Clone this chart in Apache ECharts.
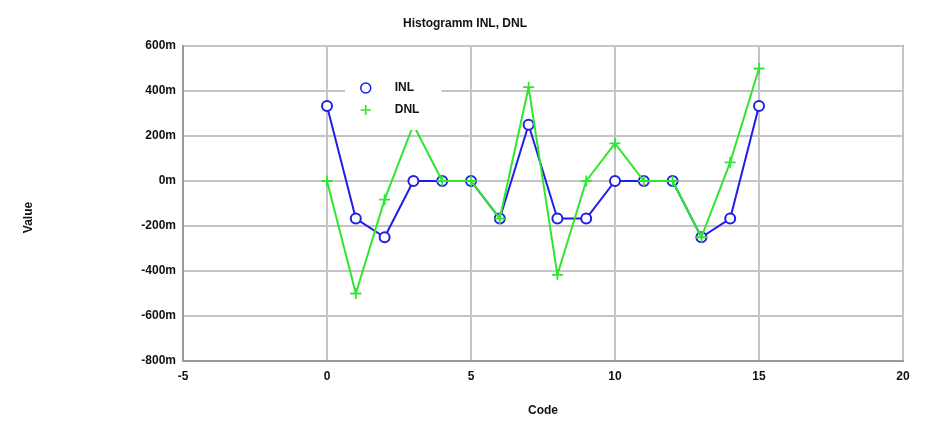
<!DOCTYPE html>
<html><head><meta charset="utf-8">
<script src="https://cdn.jsdelivr.net/npm/echarts@6/dist/echarts.min.js"></script>
<style>html,body{margin:0;padding:0;background:#fff}#c{width:930px;height:425px}</style>
</head><body><div id="c"></div>
<script>
const codes = [0,1,2,3,4,5,6,7,8,9,10,11,12,13,14,15];
// values in milli-units
const inl = [333,-167,-250,0,0,0,-167,250,-167,-167,0,0,0,-250,-167,333];
const dnl = [0,-500,-83,250,0,0,-167,417,-417,0,167,0,0,-250,83,500];
const xTicks = {min:-5, max:20, interval:5};
const yTicks = {min:-800, max:600, interval:200};

const plusPath = 'path://M4.2,0h1.6v4.2h4.2v1.6h-4.2v4.2h-1.6v-4.2h-4.2v-1.6h4.2z';
const blue = '#1e1ee8', green = '#2ee62e';
const font = 'Liberation Sans, Arial, sans-serif';

const chart = echarts.init(document.getElementById('c'), null, {renderer:'canvas'});
chart.setOption({
  animation:false,
  backgroundColor:'#fff',
  title:{text:'Histogramm INL, DNL', left:'center', top:13,
    textStyle:{fontFamily:font, fontSize:12, fontWeight:'bold', color:'#111'}},
  grid:{left:183, right:27, top:46, bottom:64, show:true, borderColor:'#999', borderWidth:2, backgroundColor:'transparent'},
  legend:{
    orient:'vertical', left:345, top:76, itemGap:8, itemWidth:10, itemHeight:10,
    padding:[5,22,13,15],
    backgroundColor:'#fff', z:10,
    textStyle:{fontFamily:font, fontSize:12, fontWeight:'bold', color:'#111', lineHeight:14, padding:[0,0,0,19]},
    data:[
      {name:'INL', icon:'circle', itemStyle:{color:'#fff', borderColor:blue, borderWidth:1.5}},
      {name:'DNL', icon:plusPath, itemStyle:{color:green, borderWidth:0}}
    ]
  },
  xAxis:{type:'value', min:xTicks.min, max:xTicks.max, interval:xTicks.interval,
    name:'Code', nameLocation:'middle', nameGap:44,
    nameTextStyle:{fontFamily:font, fontSize:12, fontWeight:'bold', color:'#111'},
    axisLine:{show:true, onZero:false, lineStyle:{color:'#999', width:2}},
    axisTick:{show:false},
    axisLabel:{margin:10, fontFamily:font, fontSize:12, fontWeight:'bold', color:'#111'},
    splitLine:{show:true, lineStyle:{color:'#c4c4c4', width:2}}
  },
  yAxis:{type:'value', min:yTicks.min, max:yTicks.max, interval:yTicks.interval,
    name:'Value', nameLocation:'middle', nameGap:148, nameRotate:90,
    nameTextStyle:{fontFamily:font, fontSize:12, fontWeight:'bold', color:'#111', padding:[0,28,0,0]},
    axisLine:{show:true, onZero:false, lineStyle:{color:'#999', width:2}},
    axisTick:{show:false},
    axisLabel:{margin:7, fontFamily:font, fontSize:12, fontWeight:'bold', color:'#111', formatter:v=>v+'m'},
    splitLine:{show:true, lineStyle:{color:'#c4c4c4', width:2}}
  },
  series:[
    {name:'INL', type:'line', data:codes.map((c,i)=>[c,inl[i]]),
      symbol:'emptyCircle', symbolSize:10, showAllSymbol:true,
      lineStyle:{color:blue, width:2}, itemStyle:{color:blue, borderColor:blue, borderWidth:2.2}, z:2},
    {name:'DNL', type:'line', data:codes.map((c,i)=>[c,dnl[i]]),
      symbol:plusPath, symbolSize:11, showAllSymbol:true,
      lineStyle:{color:green, width:2}, itemStyle:{color:green, borderWidth:0}, z:3}
  ]
});
</script></body></html>
